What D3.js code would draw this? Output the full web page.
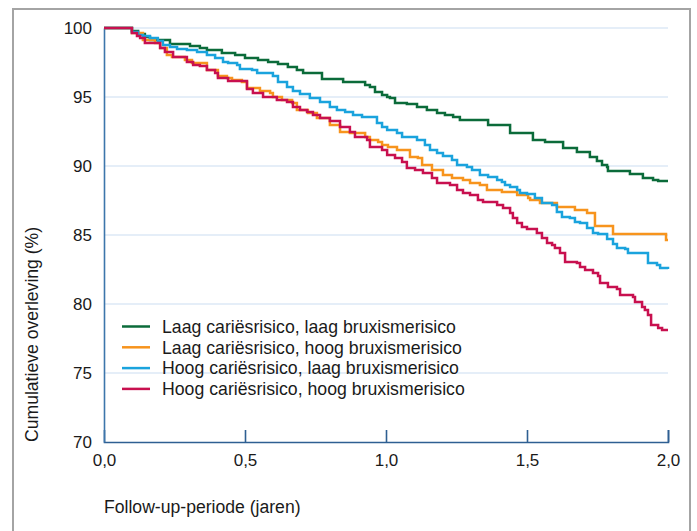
<!DOCTYPE html>
<html>
<head>
<meta charset="utf-8">
<script src="https://cdn.jsdelivr.net/npm/d3@7"></script>
<style>
  body { margin: 0; background: #fff; }
  svg text { font-family: "Liberation Sans", Arial, sans-serif; fill: #1a1a1a; }
</style>
</head>
<body>
<div id="chart"></div>
<script>
// Kaplan-Meier step data, [jaren, overleving %]
var laagLaag = [[0,100],[0.099,99.78],[0.121,99.57],[0.145,99.35],[0.163,99.13],[0.234,98.84],[0.305,98.70],[0.340,98.55],[0.365,98.41],[0.418,98.19],[0.465,98.04],[0.500,97.83],[0.546,97.68],[0.582,97.54],[0.617,97.39],[0.652,97.17],[0.684,96.96],[0.706,96.74],[0.773,96.30],[0.848,96.09],[0.926,95.87],[0.943,95.72],[0.961,95.36],[0.986,95.14],[1.004,95.00],[1.014,94.93],[1.032,94.57],[1.074,94.49],[1.110,94.28],[1.145,94.06],[1.181,93.84],[1.209,93.70],[1.238,93.55],[1.262,93.33],[1.362,92.97],[1.440,92.39],[1.521,91.88],[1.564,91.74],[1.628,91.30],[1.677,91.01],[1.723,90.65],[1.748,90.36],[1.766,90.07],[1.784,89.93],[1.787,89.64],[1.865,89.42],[1.911,89.13],[1.947,88.99],[1.965,88.91],[2.0,88.91]];

var laagHoog = [[0,100],[0.099,99.64],[0.138,99.13],[0.181,98.91],[0.199,98.55],[0.223,98.04],[0.241,97.90],[0.287,97.68],[0.312,97.46],[0.365,96.96],[0.404,96.52],[0.436,96.38],[0.454,96.23],[0.489,96.09],[0.507,95.65],[0.553,95.43],[0.589,95.29],[0.599,95.00],[0.631,94.78],[0.667,94.57],[0.684,94.06],[0.723,93.84],[0.755,93.48],[0.801,92.97],[0.837,92.46],[0.872,92.39],[0.926,92.10],[0.943,91.88],[0.972,91.74],[0.986,91.52],[1.007,91.38],[1.039,91.16],[1.085,90.65],[1.113,90.58],[1.128,90.07],[1.163,89.71],[1.202,89.35],[1.234,89.13],[1.273,88.99],[1.298,88.77],[1.333,88.62],[1.358,88.26],[1.411,88.12],[1.465,87.90],[1.504,87.68],[1.511,87.54],[1.546,87.32],[1.606,87.03],[1.670,86.81],[1.713,86.59],[1.741,85.65],[1.805,85.07],[1.993,84.64],[2.0,84.64]];

var hoogLaag = [[0,100],[0.099,99.71],[0.121,99.49],[0.138,99.42],[0.163,99.28],[0.191,99.06],[0.209,98.77],[0.234,98.62],[0.259,98.48],[0.294,98.41],[0.330,98.26],[0.365,98.04],[0.394,97.83],[0.422,97.54],[0.440,97.46],[0.472,97.32],[0.482,97.03],[0.525,96.96],[0.543,96.74],[0.599,96.52],[0.617,96.09],[0.649,95.72],[0.670,95.43],[0.695,95.22],[0.730,94.93],[0.766,94.64],[0.801,94.28],[0.826,94.06],[0.855,93.91],[0.883,93.70],[0.915,93.55],[0.968,93.12],[0.986,92.83],[1.004,92.61],[1.039,92.39],[1.057,92.10],[1.110,91.88],[1.138,91.52],[1.156,91.16],[1.181,90.94],[1.202,90.72],[1.234,90.43],[1.252,90.07],[1.287,89.93],[1.305,89.71],[1.333,89.35],[1.362,89.20],[1.394,88.99],[1.411,88.84],[1.422,88.62],[1.440,88.48],[1.465,88.26],[1.475,88.04],[1.500,87.97],[1.528,87.68],[1.553,87.32],[1.589,87.17],[1.606,86.67],[1.624,86.30],[1.652,86.23],[1.670,85.94],[1.688,85.87],[1.713,85.51],[1.734,85.14],[1.752,85.07],[1.784,84.71],[1.805,84.35],[1.819,84.06],[1.848,83.99],[1.858,83.70],[1.929,82.97],[1.961,82.83],[1.972,82.61],[2.0,82.54]];

var hoogHoog = [[0,100],[0.099,99.64],[0.117,99.42],[0.128,99.28],[0.145,98.91],[0.199,98.55],[0.216,98.26],[0.245,97.90],[0.294,97.54],[0.316,97.32],[0.340,97.25],[0.365,96.96],[0.394,96.74],[0.404,96.38],[0.440,96.16],[0.507,95.58],[0.528,95.29],[0.564,95.00],[0.613,94.78],[0.649,94.64],[0.670,94.28],[0.695,94.06],[0.720,93.91],[0.741,93.70],[0.766,93.48],[0.801,93.26],[0.837,92.83],[0.872,92.46],[0.890,92.10],[0.933,91.88],[0.943,91.38],[0.986,91.16],[1.004,90.80],[1.032,90.58],[1.057,90.29],[1.074,89.86],[1.103,89.71],[1.131,89.49],[1.163,89.13],[1.181,88.77],[1.227,88.62],[1.252,88.26],[1.273,88.04],[1.298,87.90],[1.326,87.54],[1.344,87.39],[1.394,87.17],[1.415,86.96],[1.440,86.59],[1.450,86.23],[1.465,85.87],[1.482,85.58],[1.500,85.43],[1.535,85.14],[1.553,84.78],[1.571,84.42],[1.589,84.28],[1.599,84.06],[1.617,83.70],[1.635,83.04],[1.677,82.97],[1.688,82.68],[1.706,82.46],[1.734,82.25],[1.752,82.03],[1.759,81.52],[1.787,81.23],[1.819,81.09],[1.830,80.65],[1.876,80.51],[1.883,80.14],[1.908,79.78],[1.918,79.57],[1.929,79.20],[1.940,78.48],[1.965,78.26],[1.979,78.12],[2.0,78.12]];

var seriesNames = ["Laag cariësrisico, laag bruxismerisico", "Laag cariësrisico, hoog bruxismerisico",
                   "Hoog cariësrisico, laag bruxismerisico", "Hoog cariësrisico, hoog bruxismerisico"];
var seriesColors = ["#0b6b3a", "#f7941d", "#1aa3dd", "#c8104f"];
var seriesData = [laagLaag, laagHoog, hoogLaag, hoogHoog];

var xTicks = [0, 0.5, 1, 1.5, 2];
var yTicks = [70, 75, 80, 85, 90, 95, 100];
var yTitle = "Cumulatieve overleving (%)";
var xTitle = "Follow-up-periode (jaren)";

var svgWidth = 697, svgHeight = 531;
var svg = d3.select("#chart").append("svg")
    .attr("width", svgWidth)
    .attr("height", svgHeight);

// grey outer frame, runs off the bottom like in the source
svg.append("rect")
    .attr("x", 13).attr("y", 9)
    .attr("width", 677).attr("height", 600)
    .attr("fill", "none")
    .attr("stroke", "#a4a4a4")
    .attr("stroke-width", 2);

var x = d3.scaleLinear().domain([0, 2]).range([104, 668]);
var y = d3.scaleLinear().domain([70, 100]).range([442, 28]);

// gridlines
svg.append("g").selectAll("line")
    .data(yTicks.filter(d => d > 70))
    .enter().append("line")
    .attr("x1", x(0)).attr("x2", x(2))
    .attr("y1", d => y(d)).attr("y2", d => y(d))
    .attr("stroke", "#dde9f6")
    .attr("stroke-width", 1.5);

var comma = d => d3.format(".1f")(d).replace(".", ",");

var xAxis = svg.append("g")
    .attr("transform", `translate(0, ${y(70)})`)
    .call(d3.axisBottom(x).tickValues(xTicks).tickFormat(comma).tickSize(-12).tickPadding(12));
xAxis.select(".domain").attr("stroke", "#2e5f92").attr("stroke-width", 1.6);
xAxis.selectAll(".tick line").attr("stroke", "#2e5f92").attr("stroke-width", 1.6)
    .attr("opacity", d => d === 0 ? 0 : 1);
xAxis.selectAll("text").attr("font-size", 17).attr("fill", "#1a1a1a");

var yAxis = svg.append("g")
    .attr("transform", `translate(${x(0)}, 0)`)
    .call(d3.axisLeft(y).tickValues(yTicks).tickSize(0).tickPadding(12));
yAxis.select(".domain").attr("stroke", "#3d76ab").attr("stroke-width", 1.6);
yAxis.selectAll("text").attr("font-size", 17).attr("fill", "#1a1a1a");

// survival curves
var line = d3.line()
    .x(d => x(d[0]))
    .y(d => y(d[1]))
    .curve(d3.curveStepAfter);

svg.append("g").selectAll("path")
    .data(seriesData)
    .enter().append("path")
    .attr("d", line)
    .attr("fill", "none")
    .attr("stroke", (d, i) => seriesColors[i])
    .attr("stroke-width", 2.5)
    .attr("stroke-linejoin", "miter");

// legend
var legend = svg.append("g").selectAll("g")
    .data(seriesNames)
    .enter().append("g")
    .attr("transform", (d, i) => `translate(122, ${326.5 + i * 20.8})`);
legend.append("line")
    .attr("x1", 0).attr("x2", 28)
    .attr("stroke", (d, i) => seriesColors[i])
    .attr("stroke-width", 2.5);
legend.append("text")
    .attr("x", 40).attr("dy", "0.35em")
    .attr("font-size", 17.7)
    .text(d => d);

// axis titles
svg.append("text")
    .attr("transform", "translate(38, 442) rotate(-90)")
    .attr("text-anchor", "start")
    .attr("font-size", 17.6)
    .text(yTitle);

svg.append("text")
    .attr("x", 104).attr("y", 513)
    .attr("font-size", 17.6)
    .text(xTitle);
</script>
</body>
</html>
